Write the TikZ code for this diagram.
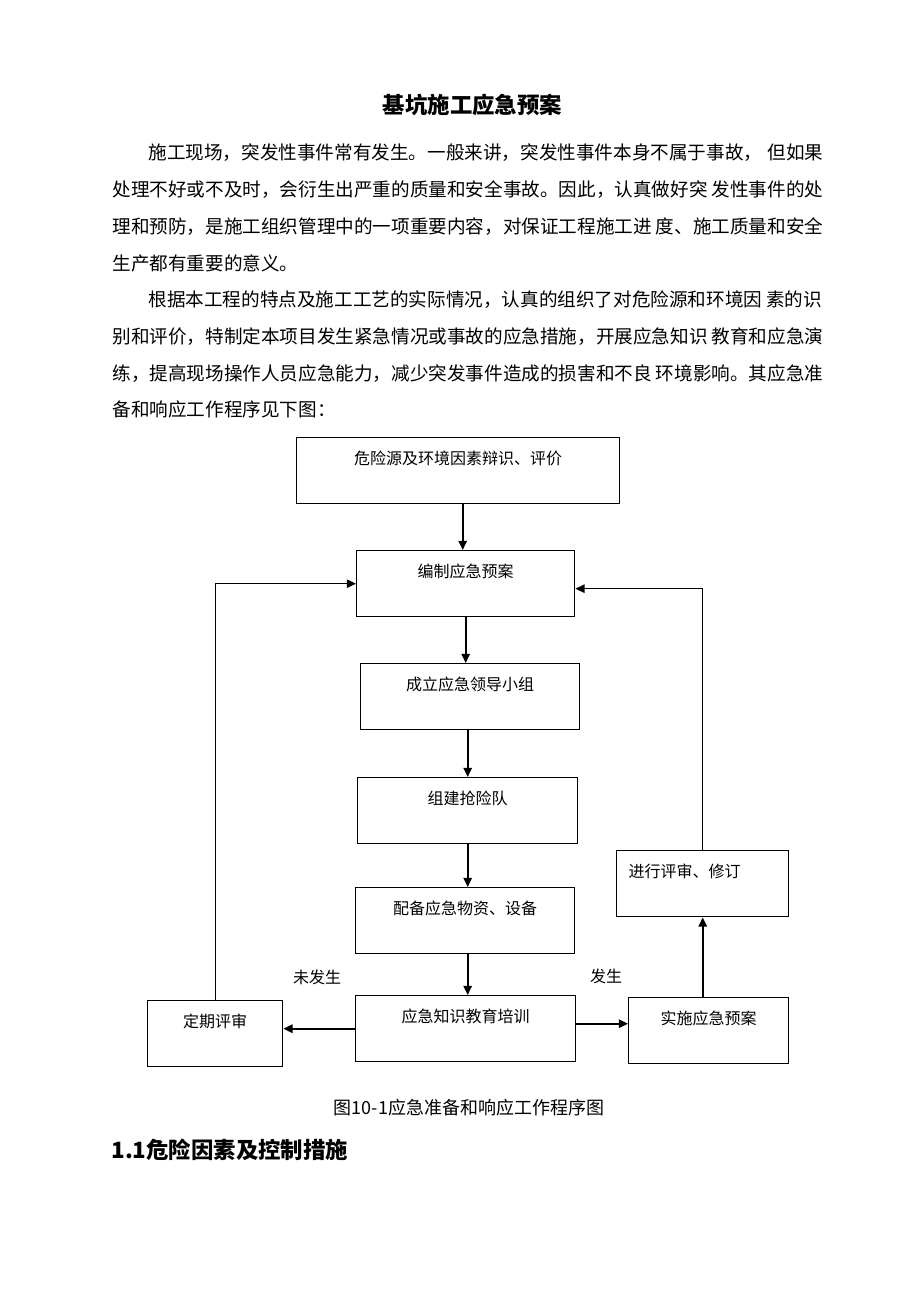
\documentclass[tikz,border=0pt]{standalone}
\usepackage{fontspec}
\setmainfont{Noto Sans CJK SC}
\usetikzlibrary{arrows.meta}

\begin{document}
\begin{tikzpicture}[x=0.5pt,y=-0.5pt,
	txt/.style={anchor=west,inner sep=0,text height=0.88em,text depth=0.12em,font=\fontsize{9.3}{9.3}\selectfont},
	box/.style={draw,line width=0.7pt,anchor=north west,inner sep=0,minimum height=33pt,text height=13.5pt,text depth=19.5pt,font=\fontsize{8}{8}\selectfont},
	arr/.style={-{Triangle[length=4.6pt,width=4.2pt]},line width=0.95pt},
	loop/.style={-{Triangle[length=4.6pt,width=4.2pt]},line width=0.7pt},
	lbl/.style={inner sep=0,font=\fontsize{8}{8}\selectfont}]
	\useasboundingbox (0,0) rectangle (920,1302);
	\node[inner sep=0,font=\fontsize{11.2}{11.2}\selectfont\bfseries] (title) at (472.5,105) {基坑施工应急预案};
	\node[txt] (p1) at (148,152) {施工现场，突发性事件常有发生。一般来讲，突发性事件本身不属于事故，\hspace{0.3em}但如果};
	\node[txt] (p2) at (112,189) {处理不好或不及时，会衍生出严重的质量和安全事故。因此，认真做好突 发性事件的处};
	\node[txt] (p3) at (112,226) {理和预防，是施工组织管理中的一项重要内容，对保证工程施工进 度、施工质量和安全};
	\node[txt] (p4) at (112,263) {生产都有重要的意义。};
	\node[txt] (q1) at (148,299) {根据本工程的特点及施工工艺的实际情况，认真的组织了对危险源和环境因 素的识};
	\node[txt] (q2) at (112,336) {别和评价，特制定本项目发生紧急情况或事故的应急措施，开展应急知识 教育和应急演};
	\node[txt] (q3) at (112,373) {练，提高现场操作人员应急能力，减少突发事件造成的损害和不良 环境影响。其应急准};
	\node[txt] (q4) at (112,409) {备和响应工作程序见下图：};
	\node[box,minimum width=161.5pt] (a) at (296,437) {危险源及环境因素辩识、评价};
	\node[box,minimum width=109pt] (b) at (356,550) {编制应急预案};
	\node[box,minimum width=109.5pt] (c) at (360,663) {成立应急领导小组};
	\node[box,minimum width=110pt] (d) at (357,777) {组建抢险队};
	\node[box,minimum width=109.5pt] (e) at (355,887) {配备应急物资、设备};
	\node[box,minimum width=110pt] (f) at (355,995) {应急知识教育培训};
	\node[box,minimum width=67.5pt] (g) at (147,1000) {定期评审};
	\node[box,minimum width=80pt] (h) at (628,997) {实施应急预案};
	\node[box,inner xsep=6pt,text width=74pt,align=left] (i) at (616,850) {进行评审、修订};
	\node[lbl] (no) at (317,977) {未发生};
	\node[lbl] (yes) at (606,976) {发生};
	\draw[arr] ([xshift=2.25pt]a.south) -- ([xshift=2.25pt]a.south |- b.north);
	\draw[arr] (b.south) -- (b.south |- c.north);
	\draw[arr] (c.south -| d.north) -- (d.north);
	\draw[arr] (d.south) -- (d.south |- e.north);
	\draw[arr] (d.south |- e.south) -- (d.south |- f.north);
	\draw[arr] (f.west) -- (f.west -| g.east);
	\draw[arr] ([yshift=2.5pt]f.east) -- ([yshift=2.5pt]f.east -| h.west);
	\draw[arr] (h.north -| i.south) -- (i.south);
	\draw[loop] (i.north) |- ([yshift=-2.5pt]b.east);
	\draw[loop] (g.north) |- (b.west);
	\node[inner sep=0,font=\fontsize{9}{9}\selectfont] (cap) at (469,1108) {图10-1应急准备和响应工作程序图};
	\node[anchor=west,inner sep=0,font=\fontsize{11.2}{11.2}\selectfont\bfseries] (sec) at (111,1150) {1.1危险因素及控制措施};
\end{tikzpicture}
\end{document}
